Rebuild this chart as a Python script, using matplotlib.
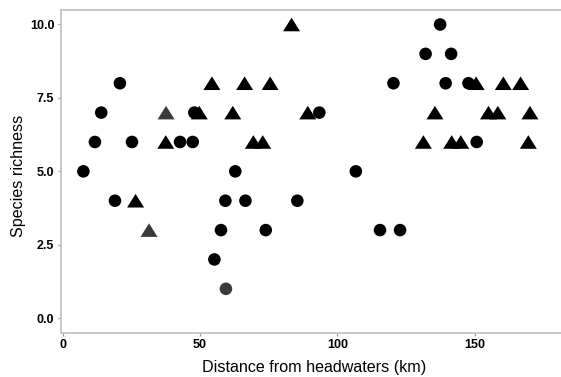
import numpy as np
import matplotlib
matplotlib.use("Agg")
import matplotlib.pyplot as plt

# Dados: distância (km) e riqueza de espécies
circ_km = [7.5, 11.7, 14.0, 20.8, 19.0, 25.2, 42.7, 47.3, 47.9, 62.8, 59.2, 66.5,
           57.6, 73.9, 55.2, 59.4, 137.4, 132.1, 141.4, 120.4, 139.4, 147.7,
           93.4, 150.7, 106.7, 85.4, 115.5, 122.8]
circ_rich = [5, 6, 7, 8, 4, 6, 6, 6, 7, 5, 4, 4,
             3, 3, 2, 1, 10, 9, 9, 8, 8, 8,
             7, 6, 5, 4, 3, 3]
circ_faded = [15]

tri_km = [54.3, 66.2, 75.5, 37.6, 49.7, 61.9, 37.5, 69.4, 72.8, 26.5, 31.4,
          83.3, 150.5, 160.4, 166.7, 89.2, 135.5, 155.0, 158.4, 170.1,
          131.3, 141.6, 144.9, 169.5]
tri_rich = [8, 8, 8, 7, 7, 7, 6, 6, 6, 4, 3,
            10, 8, 8, 8, 7, 7, 7, 7, 7,
            6, 6, 6, 6]
tri_faded = [3, 10]

x_ticks = [0, 50, 100, 150]
y_ticks = [0.0, 2.5, 5.0, 7.5, 10.0]

plt.rcParams['font.family'] = ['Liberation Sans', 'DejaVu Sans']

fig = plt.figure(figsize=(5.61, 3.77), dpi=100)
ax = fig.add_axes([0.108, 0.117, 0.892, 0.857])

cores_c = ['#3a3a3a' if i in circ_faded else 'black' for i in range(len(circ_km))]
cores_t = ['#3a3a3a' if i in tri_faded else 'black' for i in range(len(tri_km))]

# triângulo equilátero estilo ggplot (shape 17)
tri_marker = [(-1, -0.8), (1, -0.8), (0, 0.8)]

ax.scatter(circ_km, circ_rich, s=82, c=cores_c, marker='o', linewidths=0, zorder=3)
ax.scatter(tri_km, tri_rich, s=150, c=cores_t, marker=tri_marker, linewidths=0, zorder=3)

ax.set_xlim(-0.8, 181.4)
ax.set_ylim(-0.5, 10.5)
ax.set_xticks(x_ticks)
ax.set_yticks(y_ticks)
ax.set_yticklabels([f"{v:.1f}" for v in y_ticks])

for lado in ['left', 'top', 'bottom']:
    ax.spines[lado].set_color('#c8c8c8')
    ax.spines[lado].set_linewidth(1.4)
ax.spines['right'].set_visible(False)

ax.tick_params(axis='both', length=2.5, width=0.9, color='#999999',
               labelsize=9, labelcolor='black', pad=2)
for lab in ax.get_xticklabels() + ax.get_yticklabels():
    lab.set_fontweight('bold')

ax.set_xlabel('Distance from headwaters (km)', fontsize=11.6)
ax.set_ylabel('Species richness', fontsize=11.6)
ax.xaxis.set_label_coords((314 - 60.7) / (561 * 0.892), -(360 - 333) / (377 * 0.857))
ax.yaxis.set_label_coords(-(60.7 - 26) / (561 * 0.892), (333 - 176) / (377 * 0.857))

plt.savefig('out.png', dpi=100)
